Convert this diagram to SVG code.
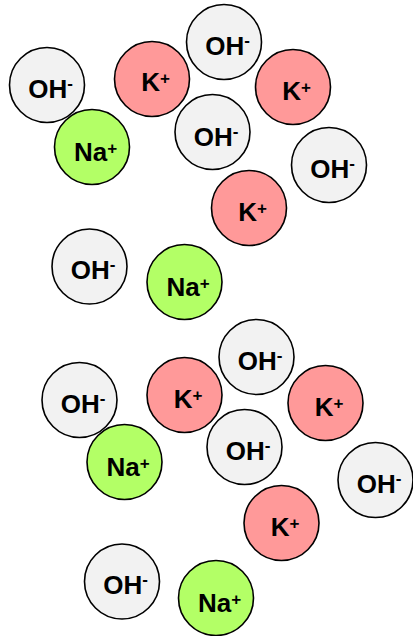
<svg xmlns="http://www.w3.org/2000/svg" width="413" height="636" viewBox="0 0 413 636">
<style>
circle{stroke:#000;stroke-width:1.6}
.oh circle{fill:#f2f2f2}
.k circle{fill:#ff9999}
.na circle{fill:#b3ff66}
text{font-family:"Liberation Sans",Arial,sans-serif;font-weight:bold;font-size:26px;text-anchor:middle;fill:#000}
.sup{font-size:17px}
</style>
<rect width="413" height="636" fill="#fff"/>
<g id="connectors"/>
<g id="top">
<g id="oh1" class="oh"><circle cx="47" cy="85" r="37.5"/><text x="50.5" y="97.5">OH<tspan class="sup" dy="-9">-</tspan></text></g>
<g id="na1" class="na"><circle cx="92" cy="147" r="37.5"/><text x="95.5" y="160.5">Na<tspan class="sup" dy="-7">+</tspan></text></g>
<g id="k1" class="k"><circle cx="152" cy="79" r="37.5"/><text x="155.5" y="91">K<tspan class="sup" dy="-7">+</tspan></text></g>
<g id="oh2" class="oh"><circle cx="224" cy="42" r="37.5"/><text x="227.5" y="54.5">OH<tspan class="sup" dy="-9">-</tspan></text></g>
<g id="k2" class="k"><circle cx="293" cy="87" r="37.5"/><text x="296.5" y="100">K<tspan class="sup" dy="-7">+</tspan></text></g>
<g id="oh3" class="oh"><circle cx="212.5" cy="132" r="37.5"/><text x="216" y="145.5">OH<tspan class="sup" dy="-9">-</tspan></text></g>
<g id="oh4" class="oh"><circle cx="329" cy="165" r="37.5"/><text x="332.5" y="177.5">OH<tspan class="sup" dy="-9">-</tspan></text></g>
<g id="k3" class="k"><circle cx="249" cy="208" r="37.5"/><text x="252.5" y="221">K<tspan class="sup" dy="-7">+</tspan></text></g>
<g id="oh5" class="oh"><circle cx="89.5" cy="266.5" r="37.5"/><text x="93" y="279">OH<tspan class="sup" dy="-9">-</tspan></text></g>
<g id="na2" class="na"><circle cx="184.5" cy="282" r="37.5"/><text x="188" y="295.5">Na<tspan class="sup" dy="-7">+</tspan></text></g>
</g>
<g id="bottom">
<g id="oh6" class="oh"><circle cx="79.5" cy="400" r="37.5"/><text x="83" y="412.5">OH<tspan class="sup" dy="-9">-</tspan></text></g>
<g id="na3" class="na"><circle cx="124.5" cy="462" r="37.5"/><text x="128" y="475.5">Na<tspan class="sup" dy="-7">+</tspan></text></g>
<g id="k4" class="k"><circle cx="184.5" cy="395" r="37.5"/><text x="188" y="408">K<tspan class="sup" dy="-7">+</tspan></text></g>
<g id="oh7" class="oh"><circle cx="256.5" cy="357" r="37.5"/><text x="260" y="369.5">OH<tspan class="sup" dy="-9">-</tspan></text></g>
<g id="k5" class="k"><circle cx="325.5" cy="403" r="37.5"/><text x="329" y="416">K<tspan class="sup" dy="-7">+</tspan></text></g>
<g id="oh8" class="oh"><circle cx="244.5" cy="447" r="37.5"/><text x="248" y="459.5">OH<tspan class="sup" dy="-9">-</tspan></text></g>
<g id="oh9" class="oh"><circle cx="375.5" cy="480" r="37.5"/><text x="379" y="492.5">OH<tspan class="sup" dy="-9">-</tspan></text></g>
<g id="k6" class="k"><circle cx="281.5" cy="523" r="37.5"/><text x="285" y="536">K<tspan class="sup" dy="-7">+</tspan></text></g>
<g id="oh10" class="oh"><circle cx="122" cy="581.5" r="37.5"/><text x="125.5" y="594">OH<tspan class="sup" dy="-9">-</tspan></text></g>
<g id="na4" class="na"><circle cx="216" cy="598" r="37.5"/><text x="219.5" y="611.5">Na<tspan class="sup" dy="-7">+</tspan></text></g>
</g>
</svg>
